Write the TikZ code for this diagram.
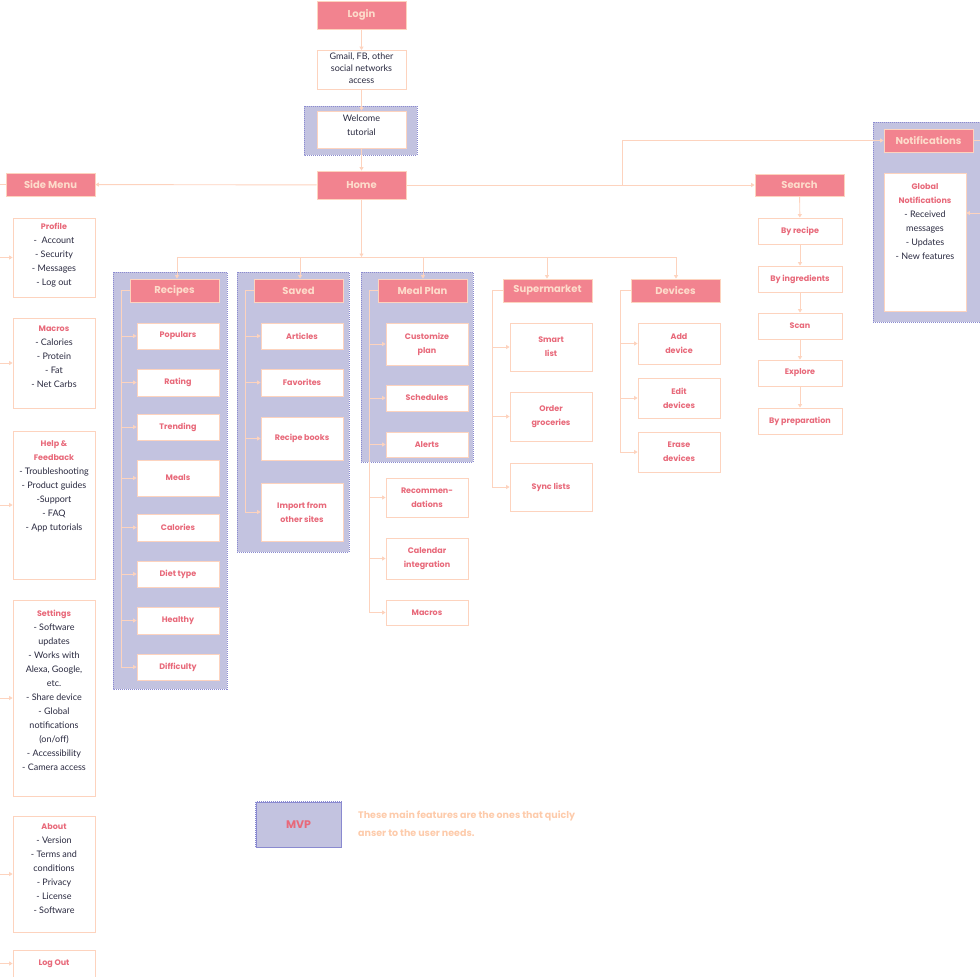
\documentclass[tikz,border=0pt]{standalone}
\usepackage{fontspec}
\setmainfont{Lato}
\newfontfamily\hfont{Poppins}
\usetikzlibrary{arrows.meta}
\definecolor{hdrfill}{HTML}{F2838F}
\definecolor{hdrtext}{HTML}{FDDCCB}
\definecolor{pinktext}{HTML}{E8697A}
\definecolor{peach}{HTML}{FDD3BE}
\definecolor{mvpfill}{HTML}{C3C3E0}
\definecolor{mvpline}{HTML}{8A8AD0}
\definecolor{bodytext}{HTML}{2A2A40}
\tikzset{
 x=1pt,y=-1pt,
 hdr/.style={fill=hdrfill,draw=peach,line width=0.8pt,text=hdrtext,font=\hfont\bfseries\fontsize{10}{12}\selectfont,inner sep=0pt},
 child/.style={fill=white,draw=peach,line width=0.8pt,text=pinktext,font=\hfont\bfseries\fontsize{8}{14}\selectfont,align=center,inner sep=0pt},
 info/.style={fill=white,draw=peach,line width=0.8pt,inner sep=0pt},
 body/.style={text=bodytext,font=\fontsize{9}{14}\selectfont,align=center,inner sep=0pt,anchor=north},
 ttl/.style={text=pinktext,font=\hfont\bfseries\fontsize{8}{14}\selectfont},
 mvp/.style={fill=mvpfill,draw=mvpline,densely dotted,line width=1pt},
 conn/.style={draw=peach,line width=0.9pt},
 arr/.style={conn,-{Triangle[width=4pt,length=3.5pt]}},
}
\newcommand{\bx}[6]{\node[#1,minimum width=#4,minimum height=#5] (#2) at (#3) {#6};}
\begin{document}
\begin{tikzpicture}
\useasboundingbox (0,0) rectangle (980,977);
% MVP backgrounds
\draw[mvp] (304,106) rectangle (417,155);
\draw[mvp] (873,122) rectangle (985,322);
\draw[mvp] (113,272) rectangle (227,689);
\draw[mvp] (237,272) rectangle (349,552);
\draw[mvp] (361,272) rectangle (473,462);
% top chain
\bx{hdr}{login}{361.5,15}{89}{28}{Login}
\bx{info}{gmail}{361.5,70}{89}{39}{}
\node[body] at (361.5,53) {Gmail, FB, other\\[-2pt]social networks\\[-2pt]access};
\bx{info}{welcome}{361.5,129.5}{89}{37}{}
\node[body] at (361.5,115) {Welcome\\tutorial};
\bx{hdr}{home}{361.5,185}{89}{28}{Home}
\draw[arr] (login) -- (gmail);
\draw[arr] (gmail) -- (welcome);
\draw[arr] (welcome) -- (home);
\bx{hdr}{side}{50.5,184.5}{89}{23}{Side Menu}
\bx{hdr}{search}{799.5,185}{89}{22}{Search}
\bx{hdr}{notif}{928.5,140.5}{89}{23}{Notifications}
\bx{info}{global}{925,242}{82}{138}{}
\node[body] at (925,183) {\textcolor{pinktext}{\hfont\bfseries\fontsize{8}{14}\selectfont Global}\\\textcolor{pinktext}{\hfont\bfseries\fontsize{8}{14}\selectfont Notifications}\\- Received\\messages\\- Updates\\- New features};
\draw[arr] (home) -- (side);
\draw[arr] (home) -- (search);
\coordinate (nb) at (622,185);
\draw[arr] (nb) |- (notif);
\coordinate (sl) at (0,184.5);
\draw[conn] (sl) -- (side);
\coordinate (nr) at (985,140.5);
\draw[conn] (notif) -- (nr);
\coordinate (gr) at (985,213);
\draw[arr] (gr) -- (global.east |- gr);
% search children
\foreach \n/\y/\t in {s1/231/By recipe,s2/279/By ingredients,s3/326/Scan,s4/373/Explore,s5/421/By preparation}
 {\bx{child}{\n}{800,\y}{84}{26}{\t}}
\draw[arr] (search) -- (s1); \draw[arr] (s1) -- (s2); \draw[arr] (s2) -- (s3); \draw[arr] (s3) -- (s4); \draw[arr] (s4) -- (s5);
% left column
\bx{info}{profile}{54,257.5}{82}{79}{}
\node[body] at (54,223) {\textcolor{pinktext}{\hfont\bfseries\fontsize{8}{14}\selectfont Profile}\\-\ \ Account\\- Security\\- Messages\\- Log out};
\bx{info}{macros}{54,363}{82}{90}{}
\node[body] at (54,326) {\textcolor{pinktext}{\hfont\bfseries\fontsize{8}{14}\selectfont Macros}\\- Calories\\- Protein\\- Fat\\- Net Carbs};
\bx{info}{help}{54,505}{82}{148}{}
\node[body] at (54,440) {\textcolor{pinktext}{\hfont\bfseries\fontsize{8}{14}\selectfont Help \&}\\\textcolor{pinktext}{\hfont\bfseries\fontsize{8}{14}\selectfont Feedback}\\- Troubleshooting\\- Product guides\\-Support\\- FAQ\\- App tutorials};
\bx{info}{settings}{54,698}{82}{196}{}
\node[body] at (54,610) {\textcolor{pinktext}{\hfont\bfseries\fontsize{8}{14}\selectfont Settings}\\- Software\\updates\\- Works with\\Alexa, Google,\\etc.\\- Share device\\- Global\\notifications\\(on/off)\\- Accessibility\\- Camera access};
\bx{info}{about}{54,874}{82}{116}{}
\node[body] at (54,823) {\textcolor{pinktext}{\hfont\bfseries\fontsize{8}{14}\selectfont About}\\- Version\\- Terms and\\conditions\\- Privacy\\- License\\- Software};
\bx{child}{logout}{54,963.5}{82}{27}{Log Out}
\foreach \n in {profile,macros,help,settings,about,logout}
 {\coordinate (l\n) at (0,0 |- \n.west); \draw[arr] (l\n) -- (\n.west);}
% category row
\bx{hdr}{recipes}{174.5,290.5}{89}{23}{Recipes}
\bx{hdr}{saved}{298.5,290.5}{89}{23}{Saved}
\bx{hdr}{meal}{422.5,290.5}{89}{23}{Meal Plan}
\bx{hdr}{super}{547.5,290.5}{89}{23}{Supermarket}
\bx{hdr}{dev}{675.5,290.5}{89}{23}{Devices}
\coordinate (hj) at (361.5,257);
\draw[arr] (home) -- (hj);
\draw[conn] (177,257) -- (676,257);
\foreach \n/\x in {recipes/177,saved/300,meal/423,super/547,dev/676}
 {\coordinate (t\n) at (\x,257); \draw[arr] (t\n) -- (\x,0 |- \n.north);}
% children helper
\newcommand{\kids}[4]{% parent, line x, child x, list n/y/h/text
 \foreach \n/\y/\h/\t in {#4}{\bx{child}{\n}{#3,\y}{82}{\h}{\t}
  \draw[arr] (#2,\y) -- (\n.west);}
}
\kids{recipes}{121}{178}{r1/336/26/Populars,r2/382.5/27/Rating,r3/427/26/Trending,r4/478/36/Meals,r5/527.5/27/Calories,r6/574/26/Diet type,r7/620.5/27/Healthy,r8/667/26/Difficulty}
\draw[conn] (recipes.west) -| (121,667);
\kids{saved}{245}{302}{v1/336/26/Articles,v2/382.5/27/Favorites,v3/438.5/43/Recipe books,v4/512/58/{Import from\\other sites}}
\draw[conn] (saved.west) -| (245,512);
\kids{meal}{369}{427}{m1/344/42/{Customize\\plan},m2/398/26/Schedules,m3/444.5/25/Alerts,m4/497.5/39/{Recommen-\\dations},m5/558.5/41/{Calendar\\integration},m6/612.5/25/Macros}
\draw[conn] (meal.west) -| (369,612.5);
\kids{super}{492}{551}{k1/347/48/{Smart\\list},k2/416.5/49/{Order\\groceries},k3/487/48/Sync lists}
\draw[conn] (super.west) -| (492,487);
\kids{dev}{620}{679}{d1/343.5/41/{Add\\device},d2/398/40/{Edit\\devices},d3/452/40/{Erase\\devices}}
\draw[conn] (dev.west) -| (620,452);
% legend
\node[mvp,minimum width=85,minimum height=45,text=pinktext,font=\hfont\bfseries\fontsize{11}{13}\selectfont,solid] (mvpl) at (298.5,824.5) {\textcolor{pinktext}{MVP}};
\draw[mvpline,densely dotted,line width=1pt] (mvpl.north west) rectangle (mvpl.south east);
\node[anchor=west,align=left,text=peach!90!orange,font=\hfont\bfseries\fontsize{9.5}{18}\selectfont,inner sep=0pt] (legt) at (358,824) {These main features are the ones that quicly\\anser to the user needs.};
\end{tikzpicture}
\end{document}
